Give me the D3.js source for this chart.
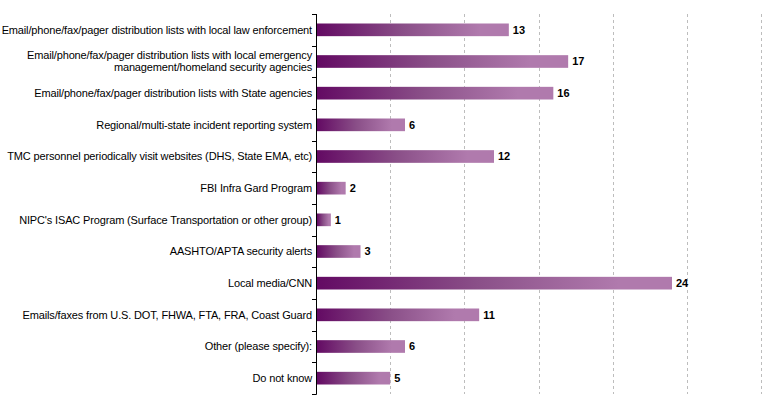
<!DOCTYPE html>
<html>
<head>
<meta charset="utf-8">
<script src="https://cdn.jsdelivr.net/npm/d3@7"></script>
<style>
  body { margin: 0; background: #fff; }
  svg text { font-family: "Liberation Sans", Arial, sans-serif; }
</style>
</head>
<body>
<div id="chart"></div>
<script>
var categories = [
  "Email/phone/fax/pager distribution lists with local law enforcement",
  "Email/phone/fax/pager distribution lists with local emergency|management/homeland security agencies",
  "Email/phone/fax/pager distribution lists with State agencies",
  "Regional/multi-state incident reporting system",
  "TMC personnel periodically visit websites (DHS, State EMA, etc)",
  "FBI Infra Gard Program",
  "NIPC's ISAC Program (Surface Transportation or other group)",
  "AASHTO/APTA security alerts",
  "Local media/CNN",
  "Emails/faxes from U.S. DOT, FHWA, FTA, FRA, Coast Guard",
  "Other (please specify):",
  "Do not know"
];
var counts = [13, 17, 16, 6, 12, 2, 1, 3, 24, 11, 6, 5];
var gridTicks = [5, 10, 15, 20, 25, 30];

function drawChart() {
  var width = 775, height = 408;
  var left = 316, right = 761, top = 14, bottom = 394;

  var svg = d3.select("#chart")
    .append("svg")
    .attr("width", width)
    .attr("height", height);

  var grad = svg.append("defs").append("linearGradient")
    .attr("id", "barGrad");
  grad.append("stop").attr("offset", "0%").attr("stop-color", "#630a63");
  grad.append("stop").attr("offset", "45%").attr("stop-color", "#8a4f88");
  grad.append("stop").attr("offset", "85%").attr("stop-color", "#b07aad");
  grad.append("stop").attr("offset", "100%").attr("stop-color", "#b07aad");

  var xScale = d3.scaleLinear().domain([0, 30]).range([left, right]);
  var yScale = d3.scaleBand()
    .domain(d3.range(categories.length))
    .range([top, bottom])
    .paddingInner(0.6)
    .paddingOuter(0.3);

  // dashed gridlines
  svg.selectAll("line.grid")
    .data(gridTicks)
    .enter()
    .append("line")
    .attr("class", "grid")
    .attr("x1", d => Math.round(xScale(d)) + 0.5)
    .attr("x2", d => Math.round(xScale(d)) + 0.5)
    .attr("y1", top)
    .attr("y2", bottom)
    .attr("stroke", "#bdbdbd")
    .attr("stroke-dasharray", "3,3");

  svg.selectAll("rect.bar")
    .data(counts)
    .enter()
    .append("rect")
    .attr("class", "bar")
    .attr("x", left + 1)
    .attr("y", (d, i) => yScale(i))
    .attr("width", d => xScale(d) - left - 1)
    .attr("height", yScale.bandwidth())
    .attr("fill", "url(#barGrad)");

  svg.selectAll("text.val")
    .data(counts)
    .enter()
    .append("text")
    .attr("class", "val")
    .text(d => d)
    .attr("x", d => xScale(d) + 4)
    .attr("y", (d, i) => yScale(i) + yScale.bandwidth() / 2)
    .attr("dy", "0.35em")
    .attr("font-size", "11px")
    .attr("font-weight", "bold")
    .attr("fill", "#000");

  // category axis with ticks at band edges
  var step = (bottom - top) / categories.length;
  var axis = svg.append("g");
  axis.append("line")
    .attr("x1", left + 0.5).attr("x2", left + 0.5)
    .attr("y1", top).attr("y2", bottom + 0.5)
    .attr("stroke", "#000");
  axis.selectAll("line.tick")
    .data(d3.range(categories.length + 1))
    .enter()
    .append("line")
    .attr("class", "tick")
    .attr("x1", left - 4).attr("x2", left + 0.5)
    .attr("y1", d => Math.round(top + d * step) + 0.5)
    .attr("y2", d => Math.round(top + d * step) + 0.5)
    .attr("stroke", "#000");

  var labels = axis.selectAll("text.cat")
    .data(categories)
    .enter()
    .append("text")
    .attr("class", "cat")
    .attr("x", left - 4)
    .attr("y", (d, i) => yScale(i) + yScale.bandwidth() / 2)
    .attr("text-anchor", "end")
    .attr("font-size", "11px")
    .attr("letter-spacing", "-0.15px")
    .attr("fill", "#000");

  labels.each(function(d) {
    var lines = d.split("|");
    var t = d3.select(this);
    lines.forEach(function(line, j) {
      t.append("tspan")
        .attr("x", left - 4)
        .attr("dy", j === 0 ? (0.35 - (lines.length - 1) * 0.55) + "em" : "1.1em")
        .text(line);
    });
  });
}

document.addEventListener('DOMContentLoaded', function() {
  drawChart();
});
</script>
</body>
</html>
